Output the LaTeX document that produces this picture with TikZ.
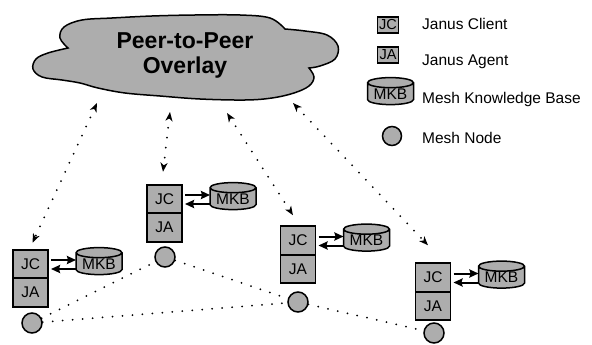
\documentclass[tikz,border=0pt]{standalone}
\usepackage{fontspec}
\setmainfont{Liberation Sans}
\usetikzlibrary{shapes.geometric, positioning, arrows.meta}
\definecolor{MeshGray}{HTML}{ADADAD}

\begin{document}
\begin{tikzpicture}[x=1pt, y=1pt,
    font=\fontsize{15.5}{18}\selectfont,
    janus/.style={draw, fill=MeshGray, line width=1.6pt, minimum width=35pt, minimum height=28.5pt, inner sep=0pt, outer sep=0pt},
    kbase/.style={draw, fill=MeshGray, line width=1.5pt, cylinder, shape border rotate=90, aspect=0.3, minimum width=46pt, minimum height=27pt, inner sep=0pt, outer sep=0pt},
    mesh/.style={draw, fill=MeshGray, line width=1.5pt, circle, minimum size=20pt, inner sep=0pt},
    peer/.style={line width=2pt, dash pattern=on 0pt off 10pt, line cap=round, {Stealth[length=9pt,width=7pt,inset=2.5pt]}-{Stealth[length=9pt,width=7pt,inset=2.5pt]}},
    link/.style={line width=2pt, dash pattern=on 0pt off 10pt, line cap=round},
    query/.style={line width=2pt, -{Stealth[length=9pt,width=8pt,inset=1pt]}},
    icon/.style={draw, fill=MeshGray, line width=1.2pt, minimum width=21pt, minimum height=16pt, inner sep=0pt, font={\fontsize{14.5}{16}\selectfont}},
    legend/.style={anchor=base west, inner sep=0pt}]
    \useasboundingbox (0,0) rectangle (592,-345);

    % Overlay cloud
    \draw[fill=MeshGray, line width=1.5pt]
        plot[smooth, tension=0.6] coordinates {(68,-48) (60,-38) (64,-27) (82,-20) (112,-18) (152,-16) (195,-15) (240,-15) (270,-18) (285,-29)}
        -- plot[smooth, tension=0.6] coordinates {(285,-29) (305,-31) (327,-35) (338,-46) (335,-59) (320,-66) (309,-68)}
        -- plot[smooth, tension=0.6] coordinates {(309,-68) (314,-77) (309,-86) (294,-93) (272,-98) (245,-100) (200,-99) (160,-96) (125,-93) (98,-88) (80,-83) (62,-80) (42,-77) (33,-69) (36,-59) (48,-53) (68,-48)}
        -- cycle;
    \node[font=\fontsize{23}{25}\selectfont\bfseries, align=center] (overlay) at (185,-55) {Peer-to-Peer\\Overlay};
    \coordinate (ov1) at (97,-103);
    \coordinate (ov2) at (170,-112);
    \coordinate (ov3) at (227,-113);
    \coordinate (ov4) at (293,-103);

    % Peer 1
    \node[janus] (jc1) at (30.5,-264) {JC};
    \node[janus, below=0pt of jc1] (ja1) {JA};
    \node[kbase, right=28pt of jc1] (mkb1) {MKB};
    \node[mesh] (mn1) at (32,-323) {};

    % Peer 2
    \node[janus] (jc2) at (164.5,-199) {JC};
    \node[janus, below=0pt of jc2] (ja2) {JA};
    \node[kbase, right=28pt of jc2] (mkb2) {MKB};
    \node[mesh] (mn2) at (165,-257) {};

    % Peer 3
    \node[janus] (jc3) at (298,-240.5) {JC};
    \node[janus, below=0pt of jc3] (ja3) {JA};
    \node[kbase, right=28pt of jc3] (mkb3) {MKB};
    \node[mesh] (mn3) at (298,-302) {};

    % Peer 4
    \node[janus] (jc4) at (433,-277.5) {JC};
    \node[janus, below=0pt of jc4] (ja4) {JA};
    \node[kbase, right=28pt of jc4] (mkb4) {MKB};
    \node[mesh] (mn4) at (434,-333) {};

    % Client <-> knowledge base
    \draw[query] ([xshift=3pt,yshift=4pt]jc1.east) -- ([yshift=4pt]mkb1.west);
    \draw[query] ([yshift=-5pt]mkb1.west) -- ([xshift=3pt,yshift=-5pt]jc1.east);
    \draw[query] ([xshift=3pt,yshift=4pt]jc2.east) -- ([yshift=4pt]mkb2.west);
    \draw[query] ([yshift=-5pt]mkb2.west) -- ([xshift=3pt,yshift=-5pt]jc2.east);
    \draw[query] ([xshift=3pt,yshift=4pt]jc3.east) -- ([yshift=4pt]mkb3.west);
    \draw[query] ([yshift=-5pt]mkb3.west) -- ([xshift=3pt,yshift=-5pt]jc3.east);
    \draw[query] ([xshift=3pt,yshift=4pt]jc4.east) -- ([yshift=4pt]mkb4.west);
    \draw[query] ([yshift=-5pt]mkb4.west) -- ([xshift=3pt,yshift=-5pt]jc4.east);

    % Overlay links
    \draw[peer] (ov1) -- ([xshift=2pt,yshift=7pt]jc1.north);
    \draw[peer] (ov2) -- ([xshift=-1.5pt,yshift=13pt]jc2.north);
    \draw[peer] (ov3) -- ([xshift=-5pt,yshift=11pt]jc3.north);
    \draw[peer] (ov4) -- ([xshift=-5pt,yshift=18pt]jc4.north);

    % Mesh links
    \draw[link] (mn1) -- (mn2);
    \draw[link] (mn1) -- (mn3);
    \draw[link] (mn2) -- (mn3);
    \draw[link] (mn3) -- (mn4);

    % Legend
    \node[icon] (legjc) at (388,-25) {JC};
    \node[legend] (txtjc) at (422,-29.5) {Janus Client};
    \node[icon] (legja) at (388,-55) {JA};
    \node[legend] (txtja) at (422,-66) {Janus Agent};
    \node[kbase] (legmkb) at (390.5,-94) {MKB};
    \node[legend] (txtmkb) at (422,-103) {Mesh Knowledge Base};
    \node[mesh, minimum size=19pt] (legmn) at (392,-136) {};
    \node[legend] (txtmn) at (422,-143) {Mesh Node};
\end{tikzpicture}
\end{document}
